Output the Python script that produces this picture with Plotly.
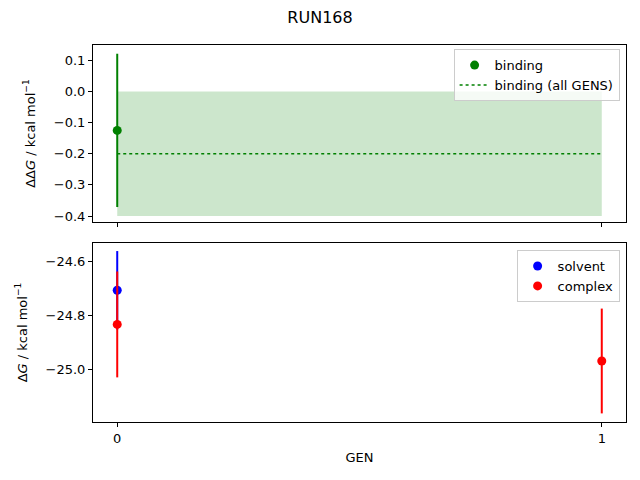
import plotly.graph_objects as go
from plotly.subplots import make_subplots

# values
gens = [0, 1]
binding_gen = [0]
binding = [-0.125]
binding_err = [0.246]
binding_all = -0.2
binding_all_err = 0.2
solvent_gen = [0]
solvent = [-24.706]
solvent_err = [0.146]
complex_gen = [0, 1]
complex_dg = [-24.833, -24.969]
complex_err = [0.197, 0.195]

green = 'green'
font = 'DejaVu Sans'

fig = make_subplots(rows=2, cols=1, shared_xaxes=True)

# shaded band for all-GENS estimate
fig.add_trace(go.Scatter(
    x=[gens[0], gens[-1], gens[-1], gens[0], gens[0]],
    y=[binding_all - binding_all_err, binding_all - binding_all_err,
       binding_all + binding_all_err, binding_all + binding_all_err,
       binding_all - binding_all_err],
    fill='toself', fillcolor='rgba(0,128,0,0.2)', mode='none',
    showlegend=False, hoverinfo='skip'), row=1, col=1)

fig.add_trace(go.Scatter(
    x=[gens[0], gens[-1]], y=[binding_all, binding_all], mode='lines',
    line=dict(color=green, width=1.5, dash='dot'),
    name='binding (all GENS)', legend='legend'), row=1, col=1)

fig.add_trace(go.Scatter(
    x=binding_gen, y=binding, mode='markers',
    marker=dict(color=green, size=9),
    error_y=dict(type='data', array=binding_err, color=green, thickness=2, width=0),
    name='binding', legend='legend'), row=1, col=1)

fig.add_trace(go.Scatter(
    x=solvent_gen, y=solvent, mode='markers',
    marker=dict(color='blue', size=9),
    error_y=dict(type='data', array=solvent_err, color='blue', thickness=2, width=0),
    name='solvent', legend='legend2'), row=2, col=1)

fig.add_trace(go.Scatter(
    x=complex_gen, y=complex_dg, mode='markers',
    marker=dict(color='red', size=9),
    error_y=dict(type='data', array=complex_err, color='red', thickness=2, width=0),
    name='complex', legend='legend2'), row=2, col=1)

axis_style = dict(showline=True, linecolor='black', linewidth=1, mirror=True,
                  ticks='outside', ticklen=4, tickcolor='black', showgrid=False,
                  zeroline=False, tickfont=dict(family=font, size=13, color='black'))

fig.update_xaxes(**axis_style, range=[-0.05, 1.05], tickvals=gens)
fig.update_xaxes(showticklabels=False, row=1, col=1)
fig.update_xaxes(title=dict(text='GEN', font=dict(family=font, size=13, color='black'), standoff=8),
                 row=2, col=1)

fig.update_yaxes(**axis_style)
fig.update_yaxes(range=[-0.419, 0.149], tickvals=[0.1, 0.0, -0.1, -0.2, -0.3, -0.4],
                 tickformat='.1f', domain=[0.5305, 1.0],
                 title=dict(text='ΔΔ<i>G</i> / kcal mol<sup>−1</sup>',
                            font=dict(family=font, size=13, color='black')),
                 row=1, col=1)
fig.update_yaxes(range=[-25.196, -24.530], tickvals=[-24.6, -24.8, -25.0],
                 tickformat='.1f', domain=[0.0, 0.4748],
                 title=dict(text='Δ<i>G</i> / kcal mol<sup>−1</sup>',
                            font=dict(family=font, size=13, color='black')),
                 row=2, col=1)

legend_style = dict(xanchor='right', yanchor='top', bgcolor='rgba(255,255,255,0.8)',
                    bordercolor='#cccccc', borderwidth=1,
                    font=dict(family=font, size=13, color='black'))

# page body has an 8px margin, so the figure is drawn 8px smaller
fig.update_layout(
    width=624, height=464,
    margin=dict(l=85, r=6, t=37, b=50),
    paper_bgcolor='white', plot_bgcolor='white',
    title=dict(text='RUN168', x=0.5, xanchor='center', yref='container', y=1 - 9 / 464,
               yanchor='middle', font=dict(family=font, size=16, color='black')),
    legend=dict(x=0.988, y=0.989, traceorder='reversed', **legend_style),
    legend2=dict(x=0.988, y=0.456, **legend_style),
)

fig.write_html('out.html')
